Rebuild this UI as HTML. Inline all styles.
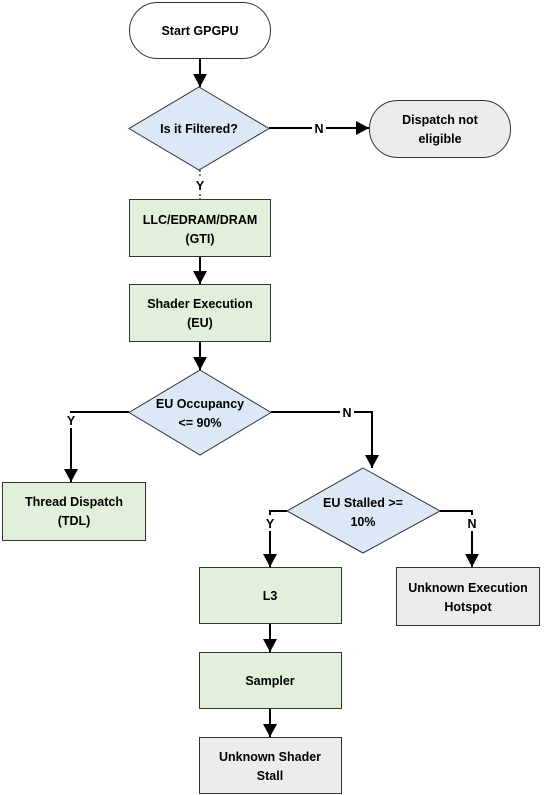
<!DOCTYPE html>
<html><head><meta charset="utf-8"><style>
html,body{margin:0;padding:0;background:#fff;}
svg{display:block;}
text{font-family:"Liberation Sans",sans-serif;font-weight:bold;font-size:12.5px;fill:#000;text-anchor:middle;}
</style></head><body>
<svg width="547" height="795" viewBox="0 0 547 795" xmlns="http://www.w3.org/2000/svg">
<defs>
<marker id="a" markerWidth="13" markerHeight="14" refX="13" refY="7" orient="auto" markerUnits="userSpaceOnUse">
<path d="M0,0 L13,7 L0,14 z" fill="#000"/></marker>
</defs>
<g stroke="#000" stroke-width="2" fill="none">
<line x1="200" y1="58" x2="200" y2="87" marker-end="url(#a)"/>
<line x1="269" y1="128" x2="369" y2="128" marker-end="url(#a)"/>
<line x1="200" y1="170" x2="200" y2="199" stroke-width="1" stroke-dasharray="2,2"/>
<line x1="200" y1="256" x2="200" y2="284" marker-end="url(#a)"/>
<line x1="200" y1="341" x2="200" y2="370" marker-end="url(#a)"/>
<polyline points="129,412 71,412 71,482" marker-end="url(#a)"/>
<polyline points="271,412 372,412 372,468" marker-end="url(#a)"/>
<polyline points="287,511 270,511 270,567" marker-end="url(#a)"/>
<polyline points="440,511 472,511 472,567" marker-end="url(#a)"/>
<line x1="270" y1="623" x2="270" y2="652" marker-end="url(#a)"/>
<line x1="270" y1="708" x2="270" y2="737" marker-end="url(#a)"/>
</g>
<g stroke="#333" stroke-width="1">
<rect x="129.5" y="2.5" width="141" height="56" rx="28" fill="#fff"/>
<polygon points="199,87 269,128.5 199,170 129,128.5" fill="#dce8f5"/>
<rect x="369.5" y="100.5" width="141" height="57" rx="28" fill="#ececec"/>
<rect x="129.5" y="199.5" width="141" height="57" fill="#e2efda"/>
<rect x="129.5" y="284.5" width="141" height="57" fill="#e2efda"/>
<polygon points="200,370 271,412.5 200,455 129,412.5" fill="#dce8f5"/>
<rect x="2.5" y="482.5" width="143" height="58" fill="#e2efda"/>
<polygon points="363,468 440,511 363,553 287,511" fill="#dce8f5"/>
<rect x="199.5" y="567.5" width="142" height="56" fill="#e2efda"/>
<rect x="396.5" y="567.5" width="143" height="58" fill="#ececec"/>
<rect x="199.5" y="652.5" width="142" height="56" fill="#e2efda"/>
<rect x="199.5" y="737.5" width="142" height="56" fill="#ececec"/>
</g>
<g fill="#fff">
<rect x="312" y="121" width="14" height="14"/>
<rect x="193" y="178" width="14" height="14"/>
<rect x="64" y="413" width="14" height="15"/>
<rect x="340" y="405" width="14" height="14"/>
<rect x="263" y="515" width="14" height="16"/>
<rect x="465" y="515" width="14" height="16"/>
</g>
<text x="319" y="133">N</text>
<text x="200" y="190">Y</text>
<text x="200" y="35">Start GPGPU</text>
<text x="199" y="133">Is it Filtered?</text>
<text x="440" y="124">Dispatch not</text>
<text x="440" y="143">eligible</text>
<text x="200" y="224">LLC/EDRAM/DRAM</text>
<text x="200" y="243">(GTI)</text>
<text x="200" y="308">Shader Execution</text>
<text x="200" y="327">(EU)</text>
<text x="200" y="408">EU Occupancy</text>
<text x="200" y="427">&lt;= 90%</text>
<text x="71" y="425">Y</text>
<text x="347" y="417">N</text>
<text x="74" y="506">Thread Dispatch</text>
<text x="74" y="525">(TDL)</text>
<text x="363" y="507">EU Stalled &gt;=</text>
<text x="363" y="526">10%</text>
<text x="270" y="528">Y</text>
<text x="472" y="528">N</text>
<text x="270" y="600">L3</text>
<text x="468" y="592">Unknown Execution</text>
<text x="468" y="611">Hotspot</text>
<text x="270" y="685">Sampler</text>
<text x="270" y="761">Unknown Shader</text>
<text x="270" y="780">Stall</text>
</svg>
</body></html>
